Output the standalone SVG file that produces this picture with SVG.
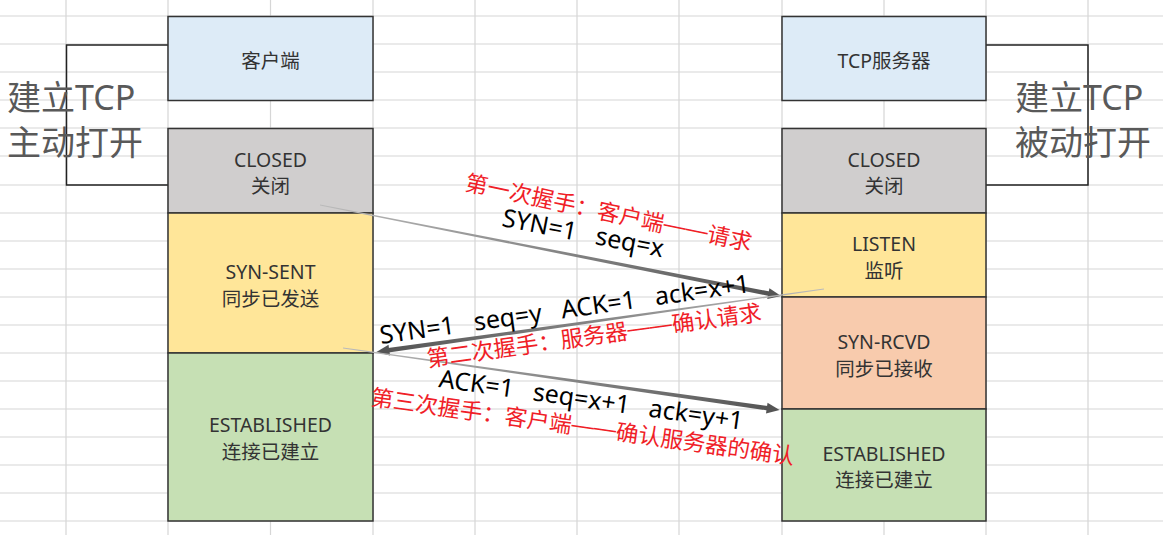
<svg xmlns="http://www.w3.org/2000/svg" width="1163" height="535" viewBox="0 0 1163 535">
<style>
.grid line{stroke:#d6d6d6;stroke-width:1.2}
.box{stroke:#333;stroke-width:1.5}
.lbl{font-family:"Noto Sans","Noto Sans CJK SC",sans-serif;font-size:19.5px;fill:#333;text-anchor:middle}
.big{font-family:"Noto Sans","Noto Sans CJK SC",sans-serif;font-size:34px;fill:#595959}
.brk{fill:none;stroke:#222;stroke-width:1.5}
.msg{font-family:"Noto Sans","Noto Sans CJK SC",sans-serif;font-size:25px;fill:#000;white-space:pre}
.red{font-family:"Noto Sans CJK SC",sans-serif;font-size:22.5px;fill:#f01e28;white-space:pre}
.dash{font-family:"Liberation Sans",sans-serif;baseline-shift:2px}
.head{fill:#555}
</style>
<defs>
<linearGradient id="fade" x1="0" y1="0" x2="1" y2="0">
<stop offset="0" stop-color="#bbb"/>
<stop offset="0.5" stop-color="#888"/>
<stop offset="1" stop-color="#555"/>
</linearGradient>
</defs>
<rect width="1163" height="535" fill="#fff"/>
<g class="grid">
<line x1="66" y1="0" x2="66" y2="535"/>
<line x1="168" y1="0" x2="168" y2="535"/>
<line x1="270.5" y1="0" x2="270.5" y2="535"/>
<line x1="373" y1="0" x2="373" y2="535"/>
<line x1="475" y1="0" x2="475" y2="535"/>
<line x1="577" y1="0" x2="577" y2="535"/>
<line x1="679" y1="0" x2="679" y2="535"/>
<line x1="782" y1="0" x2="782" y2="535"/>
<line x1="884" y1="0" x2="884" y2="535"/>
<line x1="986" y1="0" x2="986" y2="535"/>
<line x1="1088" y1="0" x2="1088" y2="535"/>
<line x1="0" y1="16" x2="1163" y2="16"/>
<line x1="0" y1="44" x2="1163" y2="44"/>
<line x1="0" y1="72" x2="1163" y2="72"/>
<line x1="0" y1="100" x2="1163" y2="100"/>
<line x1="0" y1="128" x2="1163" y2="128"/>
<line x1="0" y1="156" x2="1163" y2="156"/>
<line x1="0" y1="185" x2="1163" y2="185"/>
<line x1="0" y1="213" x2="1163" y2="213"/>
<line x1="0" y1="241" x2="1163" y2="241"/>
<line x1="0" y1="269" x2="1163" y2="269"/>
<line x1="0" y1="297" x2="1163" y2="297"/>
<line x1="0" y1="325" x2="1163" y2="325"/>
<line x1="0" y1="353" x2="1163" y2="353"/>
<line x1="0" y1="381" x2="1163" y2="381"/>
<line x1="0" y1="409" x2="1163" y2="409"/>
<line x1="0" y1="437" x2="1163" y2="437"/>
<line x1="0" y1="465" x2="1163" y2="465"/>
<line x1="0" y1="493" x2="1163" y2="493"/>
<line x1="0" y1="521" x2="1163" y2="521"/>
</g>
<g id="client-bracket">
<path class="brk" d="M168,45 H66.5 V185 H168"/>
<text class="big" x="7" y="110">建立TCP</text>
<text class="big" x="7" y="155">主动打开</text>
</g>
<g id="server-bracket">
<path class="brk" d="M986,45 H1088 V185 H986"/>
<text class="big" x="1015" y="110">建立TCP</text>
<text class="big" x="1015" y="155">被动打开</text>
</g>
<g id="client-header">
<rect class="box" x="168" y="16.5" width="205" height="84" fill="#ddebf7"/>
<text class="lbl" x="270.5" y="68">客户端</text>
</g>
<g id="client-closed">
<rect class="box" x="168" y="128.5" width="205" height="84.5" fill="#d0cece"/>
<text class="lbl" x="270.5" y="167">CLOSED</text>
<text class="lbl" x="270.5" y="193">关闭</text>
</g>
<g id="client-synsent">
<rect class="box" x="168" y="213" width="205" height="140" fill="#ffe699"/>
<text class="lbl" x="270.5" y="279">SYN-SENT</text>
<text class="lbl" x="270.5" y="306">同步已发送</text>
</g>
<g id="client-established">
<rect class="box" x="168" y="353" width="205" height="168" fill="#c6e0b4"/>
<text class="lbl" x="270.5" y="432">ESTABLISHED</text>
<text class="lbl" x="270.5" y="459">连接已建立</text>
</g>
<g id="server-header">
<rect class="box" x="782" y="16.5" width="204" height="84" fill="#ddebf7"/>
<text class="lbl" x="884" y="68">TCP服务器</text>
</g>
<g id="server-closed">
<rect class="box" x="782" y="128.5" width="204" height="84.5" fill="#d0cece"/>
<text class="lbl" x="884" y="167">CLOSED</text>
<text class="lbl" x="884" y="193">关闭</text>
</g>
<g id="server-listen">
<rect class="box" x="782" y="213" width="204" height="84" fill="#ffe699"/>
<text class="lbl" x="884" y="251">LISTEN</text>
<text class="lbl" x="884" y="278">监听</text>
</g>
<g id="server-synrcvd">
<rect class="box" x="782" y="297" width="204" height="112" fill="#f8cbad"/>
<text class="lbl" x="884" y="349">SYN-RCVD</text>
<text class="lbl" x="884" y="376">同步已接收</text>
</g>
<g id="server-established">
<rect class="box" x="782" y="409" width="204" height="112" fill="#c6e0b4"/>
<text class="lbl" x="884" y="461">ESTABLISHED</text>
<text class="lbl" x="884" y="487">连接已建立</text>
</g>
<g id="connectors">
<g transform="translate(320,205) rotate(11.17)">
<path d="M0,-0.4 L458,-2.2 L458,2.2 L0,0.4 Z" fill="url(#fade)"/>
<path class="head" d="M457,-5.5 L470,0 L457,5.5 Z"/>
</g>
<g transform="translate(824,289) rotate(172)">
<path d="M0,-0.4 L440,-2.2 L440,2.2 L0,0.4 Z" fill="url(#fade)"/>
<path class="head" d="M439,-5.5 L452,0 L439,5.5 Z"/>
</g>
<g transform="translate(343,348) rotate(8.07)">
<path d="M0,-0.4 L429,-2.2 L429,2.2 L0,0.4 Z" fill="url(#fade)"/>
<path class="head" d="M428,-5.5 L441,0 L428,5.5 Z"/>
</g>
<text class="red" x="464" y="190" transform="rotate(12 464 190)">第一次握手：客户端<tspan class="dash">——</tspan>请求</text>
<text class="msg" x="501" y="226" transform="rotate(11 501 226)">SYN=1   seq=x</text>
<text class="msg" x="381" y="344" transform="rotate(-8 381 344)">SYN=1   seq=y   ACK=1   ack=x+1</text>
<text class="red" x="428" y="367" transform="rotate(-8 428 367)">第二次握手：服务器<tspan class="dash">——</tspan>确认请求</text>
<text class="msg" x="438" y="387" transform="rotate(8 438 387)">ACK=1   seq=x+1   ack=y+1</text>
<text class="red" x="370" y="405" transform="rotate(8 370 405)">第三次握手：客户端<tspan class="dash">——</tspan>确认服务器的确认</text>
</g>
</svg>
